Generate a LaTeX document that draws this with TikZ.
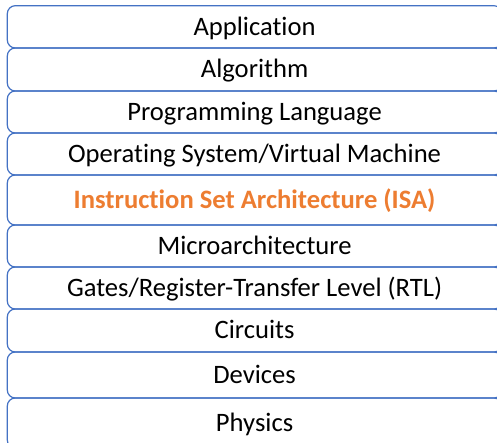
\documentclass[tikz,border=0pt]{standalone}
\usepackage{fontspec}
\setmainfont{Carlito}[Ligatures=NoCommon]
\usetikzlibrary{positioning}

\definecolor{layerblue}{HTML}{4472C4}
\definecolor{isaorange}{HTML}{ED7D31}

\tikzset{
  layer/.style={draw=layerblue, line width=1.2bp, rounded corners=8bp,
    minimum width=494.5bp, inner sep=0pt, outer sep=0pt,
    text height=20bp, text depth=3.5bp,
    font=\fontsize{26.7}{30}\selectfont},
  isa/.style={layer, text=isaorange, font=\fontsize{26.7}{30}\selectfont\bfseries}
}

\begin{document}
\begin{tikzpicture}[x=1bp,y=1bp]

\clip (0,0) rectangle (497,-443);
\useasboundingbox (0,0) rectangle (497,-443);

\node [layer, minimum height=42.3bp, anchor=north west] (app) at (7.3,-5.7) {Application};
\node [layer, minimum height=43bp, below=0pt of app]   (alg)   {Algorithm};
\node [layer, minimum height=42bp, below=0pt of alg]   (lang)  {Programming Language};
\node [layer, minimum height=42bp, below=0pt of lang]  (os)    {Operating System/Virtual Machine};
\node [isa,   minimum height=50bp, below=0pt of os]    (isa)   {Instruction Set Architecture (ISA)};
\node [layer, minimum height=42bp, below=0pt of isa]   (uarch) {Microarchitecture};
\node [layer, minimum height=42bp, below=0pt of uarch] (rtl)   {Gates/Register-Transfer Level (RTL)};
\node [layer, minimum height=43bp, below=0pt of rtl]   (circ)  {Circuits};
\node [layer, minimum height=46bp, below=0pt of circ]  (dev)   {Devices};
\node [layer, minimum height=50bp, below=0pt of dev]   (phys)  {Physics};

\end{tikzpicture}
\end{document}
